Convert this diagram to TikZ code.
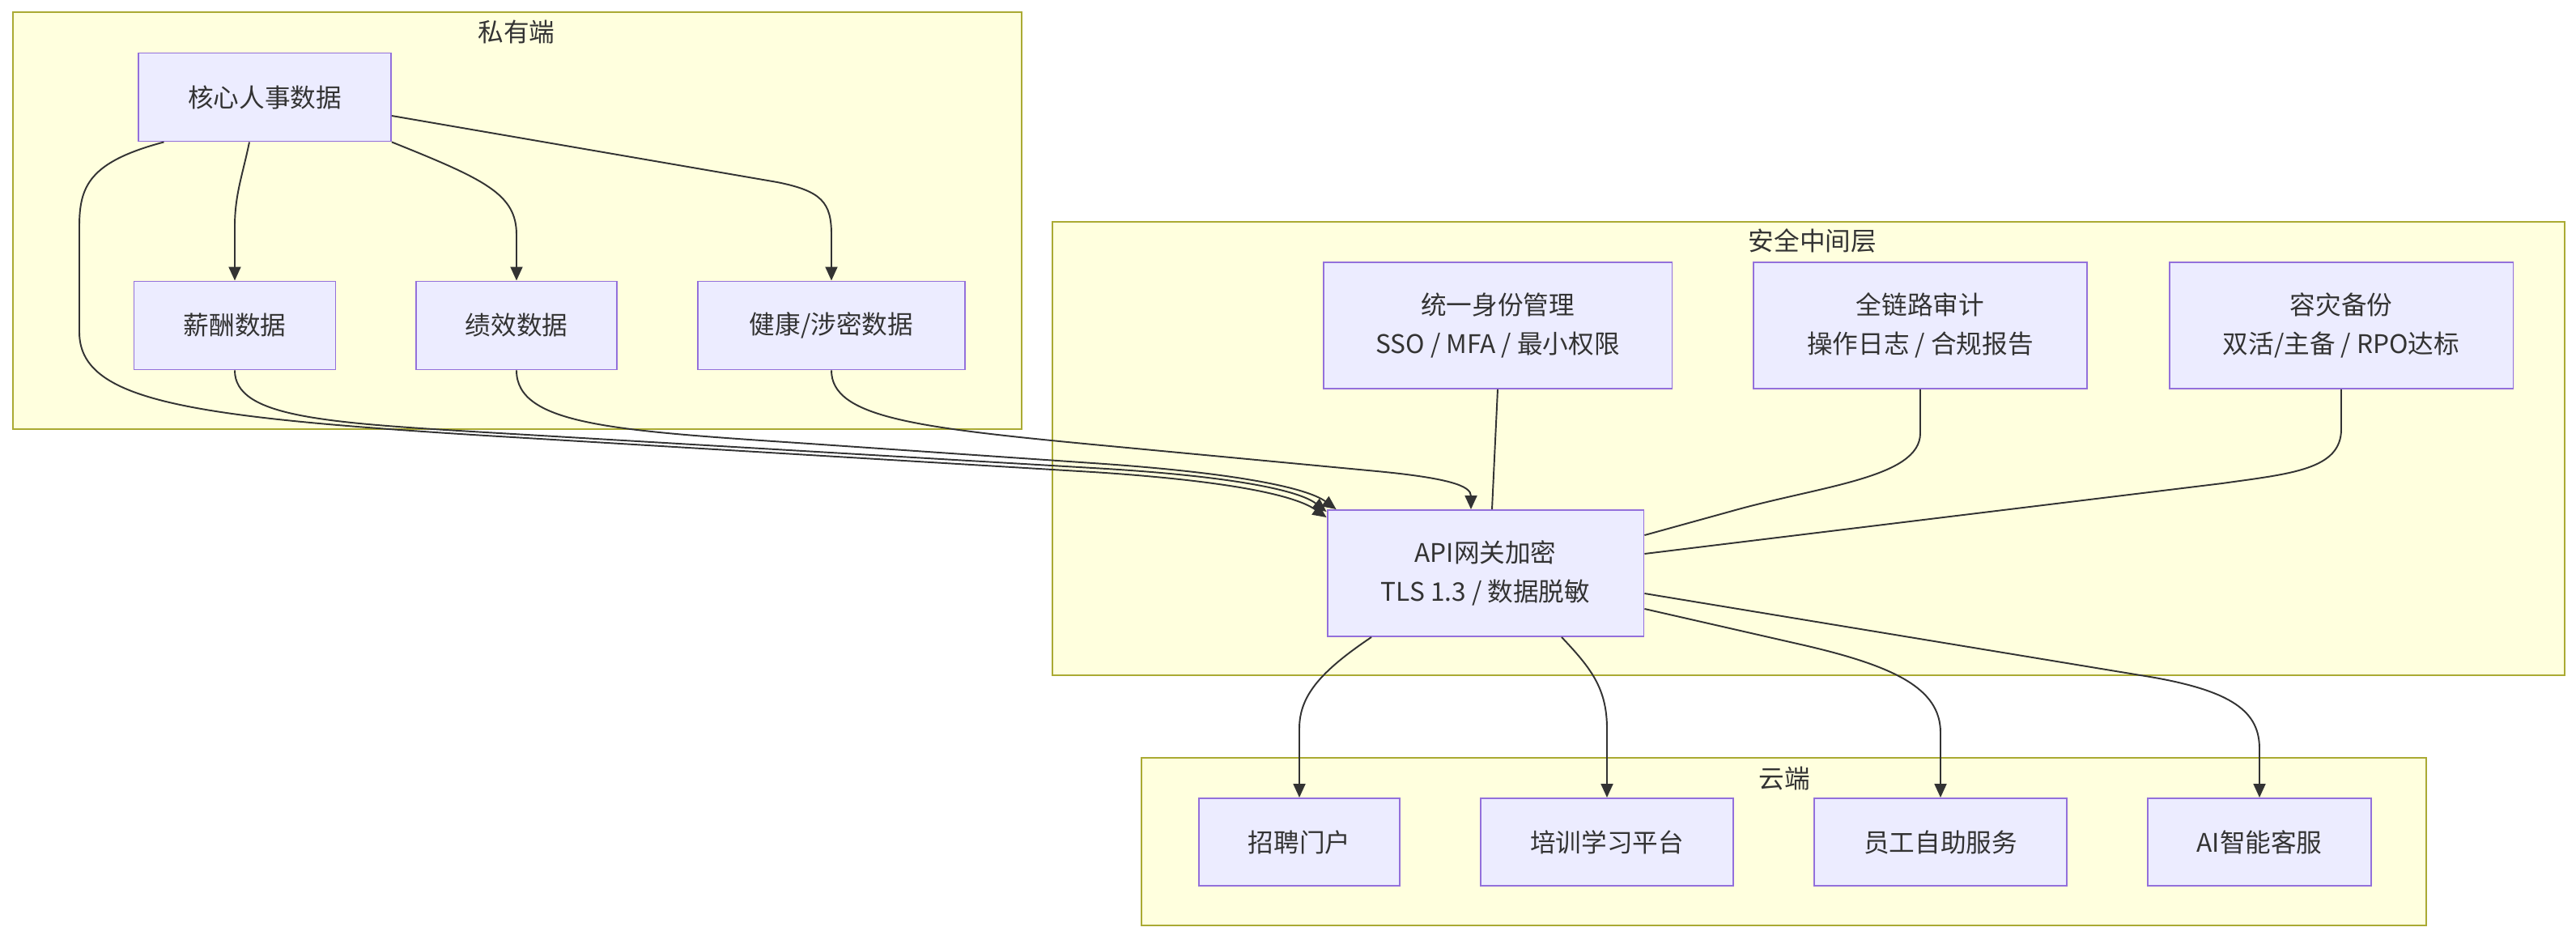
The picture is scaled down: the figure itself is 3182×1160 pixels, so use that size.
\documentclass[tikz,border=0pt]{standalone}
\usepackage{fontspec}
\setmainfont{Noto Sans CJK SC}
\usepackage{xcolor}
\usetikzlibrary{arrows.meta,calc}
\definecolor{groupfillc}{HTML}{FFFFDE}
\definecolor{grouplinec}{HTML}{AAAA33}
\definecolor{boxfillc}{HTML}{ECECFF}
\definecolor{boxlinec}{HTML}{9370DB}
\definecolor{inkc}{HTML}{333333}
\tikzset{
  nodebox/.style={draw=boxlinec, fill=boxfillc, line width=1.1pt, text=inkc, align=center, inner sep=0pt, font=\fontsize{18}{27}\selectfont},
  onebox/.style={nodebox, minimum height=2.18cm},
  twobox/.style={nodebox, minimum height=3.12cm},
  groupbox/.style={draw=grouplinec, fill=groupfillc, line width=1.3pt},
  grouptitle/.style={text=inkc, font=\fontsize{18}{22}\selectfont},
  arc/.style={-{Triangle[length=0.34cm, width=0.3cm]}, draw=inkc, line width=1.1pt},
  plainarc/.style={draw=inkc, line width=1.1pt}
}
\begin{document}
\begin{tikzpicture}[x=0.02cm, y=-0.02cm]
  \fill[white] (0,0) rectangle (3182,1160);
  \useasboundingbox (0,0) rectangle (3182,1160);

  \draw[groupbox] (16,15) rectangle (1262,530);
  \node[grouptitle] (privtitle) at (638,40) {私有端};
  \node[onebox, minimum width=6.24cm] (core) at (327,120) {核心人事数据};
  \node[onebox, minimum width=4.98cm] (sal) at (290,402) {薪酬数据};
  \node[onebox, minimum width=4.96cm] (perf) at (638,402) {绩效数据};
  \node[onebox, minimum width=6.6cm] (hlth) at (1027,402) {健康/涉密数据};

  \draw[groupbox] (1300,274) rectangle (3168,834);
  \node[grouptitle] (sectitle) at (2239,297) {安全中间层};
  \node[twobox, minimum width=8.62cm] (iam) at (1850,402) {统一身份管理\\SSO / MFA / 最小权限};
  \node[twobox, minimum width=8.24cm] (audit) at (2372,402) {全链路审计\\操作日志 / 合规报告};
  \node[twobox, minimum width=8.5cm] (dr) at (2892,402) {容灾备份\\双活/主备 / RPO达标};
  \node[twobox, minimum width=7.82cm] (api) at (1835,708) {API网关加密\\TLS 1.3 / 数据脱敏};

  \draw[groupbox] (1410,936) rectangle (2997,1143);
  \node[grouptitle] (cloudtitle) at (2204,962) {云端};
  \node[onebox, minimum width=4.96cm, minimum height=2.16cm] (recruit) at (1605,1040) {招聘门户};
  \node[onebox, minimum width=6.24cm, minimum height=2.16cm] (train) at (1985,1040) {培训学习平台};
  \node[onebox, minimum width=6.24cm, minimum height=2.16cm] (selfsvc) at (2397,1040) {员工自助服务};
  \node[onebox, minimum width=5.52cm, minimum height=2.16cm] (aisvc) at (2791,1040) {AI智能客服};

  \draw[arc] ($(core.south)+(-19,0)$) .. controls (300,215) and (290,240) .. (290,280) -- (sal.north);
  \draw[arc] (core.south east) .. controls (600,222) and (638,240) .. (638,290) -- (perf.north);
  \draw[arc] ($(core.east)+(0,23)$) -- (960,225) .. controls (1015,236) and (1027,250) .. (1027,290) -- (hlth.north);

  \draw[arc] (core.204) .. controls (110,200) and (98,230) .. (98,280) -- (98,410) .. controls (98,495) and (230,515) .. (600,538) -- (1350,583) .. controls (1520,594) and (1600,612) .. ($(api.north west)+(0,10)$);
  \draw[arc] (sal.south) .. controls (290,515) and (400,522) .. (600,534) -- (1350,578) .. controls (1525,588) and (1605,606) .. ($(api.north west)+(0,3)$);
  \draw[arc] (perf.south) .. controls (638,525) and (760,532) .. (1000,548) -- (1350,572) .. controls (1530,584) and (1615,603) .. ($(api.north west)+(12,0)$);
  \draw[arc] (hlth.south) .. controls (1027,515) and (1130,528) .. (1350,549) -- (1690,581) .. controls (1790,590) and (1817,600) .. ($(api.north)+(-18,0)$);

  \draw[plainarc] (iam.south) -- ($(api.north)+(8,0)$);
  \draw[plainarc] (audit.south) -- (2372,535) .. controls (2372,590) and (2250,600) .. (2140,631) -- ($(api.east)+(0,-47)$);
  \draw[plainarc] (dr.south) -- (2892,530) .. controls (2892,580) and (2830,585) .. (2745,597) -- ($(api.east)+(0,-24)$);

  \draw[arc] ($(api.south)+(-141,0)$) .. controls (1630,830) and (1605,860) .. (1605,900) -- (recruit.north);
  \draw[arc] ($(api.south)+(94,0)$) .. controls (1965,825) and (1985,850) .. (1985,900) -- (train.north);
  \draw[arc] ($(api.east)+(0,44)$) -- (2220,795) .. controls (2340,822) and (2397,850) .. (2397,905) -- (selfsvc.north);
  \draw[arc] ($(api.east)+(0,25)$) -- (2650,835) .. controls (2760,853) and (2791,880) .. (2791,925) -- (aisvc.north);
\end{tikzpicture}
\end{document}
